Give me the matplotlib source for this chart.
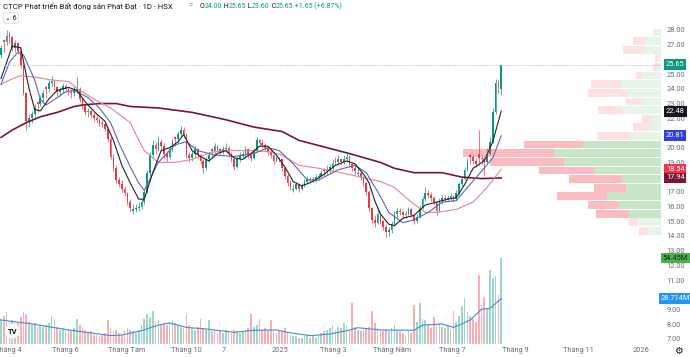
import numpy as np
import matplotlib.pyplot as plt

plt.rcParams["font.family"] = ["Roboto", "DejaVu Sans"]

W, H = 690, 357

# candles, two trading days each (late Mar 2024 -> mid Aug 2025)
opens = [
    26.3, 27.3, 27.2, 27.7, 27.5, 26.8, 27.1, 26.6, 25.6, 23.7,
    21.8, 22.0, 22.3, 23.1, 23.0, 23.4, 24.1, 24.0, 24.4, 24.5,
    24.1, 23.8, 23.9, 24.2, 24.0, 23.8, 23.7, 23.9, 24.0, 23.3,
    22.8, 22.4, 22.5, 22.2, 22.0, 21.9, 21.7, 21.6, 21.3, 20.6,
    19.4, 18.6, 17.8, 17.5, 17.2, 16.9, 16.3, 15.7, 15.8, 15.9,
    16.0, 16.3, 17.0, 18.3, 19.5, 20.2, 19.9, 20.4, 20.1, 19.6,
    19.4, 19.9, 20.7, 20.6, 20.9, 21.2, 20.9, 19.5, 19.3, 19.6,
    19.9, 19.5, 19.1, 18.6, 19.2, 19.9, 19.8, 20.1, 19.9, 19.7,
    19.9, 20.0, 19.6, 19.2, 18.7, 19.2, 19.5, 19.6, 19.9, 19.5,
    19.3, 19.8, 20.5, 20.3, 20.2, 20.0, 19.7, 19.5, 19.1, 19.3,
    19.2, 18.6, 18.1, 17.6, 17.1, 17.2, 17.5, 17.2, 17.4, 17.7,
    17.9, 17.8, 17.9, 18.0, 18.1, 18.5, 18.4, 18.5, 18.7, 19.1,
    19.0, 19.2, 19.0, 19.2, 19.4, 18.9, 18.6, 18.2, 18.3, 18.0,
    17.6, 17.0, 15.9, 15.1, 14.9, 15.5, 15.0, 14.6, 14.3, 14.4,
    14.8, 15.5, 15.7, 15.6, 15.4, 15.5, 15.8, 15.4, 15.0, 15.3,
    15.9, 16.5, 16.9, 16.8, 16.6, 16.3, 15.7, 16.4, 16.6, 16.5,
    16.6, 16.7, 16.5, 16.9, 17.5, 17.9, 18.5, 19.5, 19.4, 19.1,
    19.6, 19.3, 19.2, 19.0, 19.6, 20.4, 22.4, 24.4, 24.0,
]
highs = [
    27.0, 27.4, 28.0, 27.9, 27.6, 27.3, 27.2, 26.8, 25.7, 23.8,
    22.3, 22.5, 23.0, 23.2, 23.6, 23.9, 24.2, 24.6, 24.9, 24.6,
    24.2, 24.1, 24.4, 24.3, 24.1, 24.0, 24.2, 24.8, 24.1, 23.4,
    23.0, 22.7, 22.6, 22.4, 22.3, 22.0, 21.9, 21.7, 21.4, 20.7,
    19.6, 18.8, 18.0, 17.8, 17.4, 17.0, 16.5, 16.2, 16.2, 16.3,
    16.5, 17.2, 18.5, 19.7, 20.5, 20.4, 20.8, 20.6, 20.3, 19.8,
    20.1, 20.6, 20.8, 21.1, 21.5, 21.4, 21.0, 19.7, 19.8, 20.1,
    20.0, 19.6, 19.2, 19.4, 19.7, 20.0, 20.3, 20.2, 20.0, 20.1,
    20.3, 20.1, 19.7, 19.3, 19.4, 19.7, 19.8, 20.1, 20.0, 19.6,
    20.0, 20.7, 20.6, 20.5, 20.3, 20.1, 19.9, 19.6, 19.5, 19.4,
    19.3, 18.7, 18.2, 17.8, 17.5, 17.7, 17.6, 17.6, 17.9, 18.1,
    18.0, 18.1, 18.2, 18.3, 18.5, 18.6, 18.8, 18.9, 19.2, 19.4,
    19.5, 19.3, 19.5, 19.7, 19.5, 19.0, 18.8, 18.6, 18.4, 18.1,
    17.7, 17.1, 16.0, 15.4, 15.9, 15.6, 15.1, 14.8, 14.6, 15.0,
    15.7, 15.9, 15.9, 15.7, 15.7, 16.0, 15.9, 15.5, 15.5, 16.1,
    16.7, 17.3, 17.1, 17.0, 16.7, 16.4, 16.6, 16.8, 16.8, 16.8,
    16.9, 16.8, 17.1, 17.7, 18.1, 18.7, 19.3, 19.6, 19.5, 19.3,
    21.2, 19.5, 19.4, 20.0, 20.7, 22.7, 24.7, 24.6, 25.65,
]
lows = [
    26.1, 26.5, 27.0, 27.1, 26.6, 26.5, 26.4, 25.4, 23.6, 21.2,
    21.4, 21.7, 22.1, 22.4, 22.8, 23.1, 23.4, 23.8, 24.1, 23.9,
    23.5, 23.5, 23.7, 23.8, 23.6, 23.4, 23.5, 23.7, 23.1, 22.6,
    22.2, 22.1, 22.0, 21.8, 21.7, 21.5, 21.4, 21.1, 20.4, 19.2,
    18.4, 17.6, 17.3, 17.0, 16.7, 16.1, 15.6, 15.5, 15.6, 15.7,
    15.8, 16.2, 16.9, 18.1, 19.3, 19.6, 19.8, 19.8, 19.3, 19.0,
    19.2, 19.7, 20.1, 20.4, 20.7, 20.7, 19.3, 19.0, 19.1, 19.4,
    19.3, 18.9, 18.3, 18.5, 19.0, 19.3, 19.6, 19.7, 19.5, 19.6,
    19.7, 19.4, 19.0, 18.5, 18.6, 19.0, 19.3, 19.4, 19.3, 19.1,
    19.2, 19.7, 20.1, 20.0, 19.8, 19.5, 19.3, 18.9, 19.0, 19.0,
    18.4, 17.9, 17.4, 17.1, 17.0, 17.1, 17.0, 17.1, 17.3, 17.5,
    17.6, 17.7, 17.7, 17.8, 18.0, 18.1, 18.2, 18.3, 18.5, 18.8,
    18.8, 18.8, 18.9, 19.0, 18.7, 18.4, 18.2, 18.1, 17.8, 17.4,
    16.8, 15.7, 14.9, 14.6, 14.8, 14.8, 14.4, 13.9, 14.0, 14.2,
    14.7, 15.3, 15.4, 15.2, 15.3, 15.4, 15.3, 14.8, 14.9, 15.2,
    15.8, 16.4, 16.6, 16.4, 16.1, 15.4, 15.6, 16.2, 16.3, 16.4,
    16.4, 16.3, 16.4, 16.8, 17.4, 17.8, 18.4, 18.9, 18.9, 18.7,
    18.8, 18.9, 18.1, 18.9, 19.5, 20.3, 22.3, 23.7, 23.6,
]
closes = [
    26.8, 27.2, 27.6, 27.5, 26.8, 27.1, 26.6, 25.6, 23.7, 21.8,
    22.0, 22.3, 22.7, 23.0, 23.4, 23.7, 24.0, 24.4, 24.5, 24.1,
    23.8, 23.9, 24.2, 24.0, 23.8, 23.7, 23.9, 24.0, 23.3, 22.8,
    22.4, 22.5, 22.2, 22.0, 21.9, 21.7, 21.6, 21.3, 20.6, 19.4,
    18.6, 17.8, 17.5, 17.2, 16.9, 16.3, 15.9, 15.8, 15.9, 16.0,
    16.3, 17.0, 18.3, 19.5, 20.2, 19.9, 20.4, 20.1, 19.6, 19.4,
    19.9, 20.4, 20.6, 20.9, 21.2, 20.9, 19.5, 19.3, 19.6, 19.9,
    19.5, 19.1, 18.6, 19.2, 19.5, 19.8, 20.1, 19.9, 19.7, 19.9,
    20.0, 19.6, 19.2, 18.7, 19.2, 19.5, 19.6, 19.9, 19.5, 19.3,
    19.8, 20.5, 20.3, 20.2, 20.0, 19.7, 19.5, 19.1, 19.3, 19.2,
    18.6, 18.1, 17.6, 17.3, 17.2, 17.5, 17.2, 17.4, 17.7, 17.9,
    17.8, 17.9, 18.0, 18.1, 18.3, 18.4, 18.5, 18.7, 18.9, 19.0,
    19.2, 19.0, 19.2, 19.4, 18.9, 18.6, 18.4, 18.3, 18.0, 17.6,
    17.0, 15.9, 15.1, 14.9, 15.5, 15.0, 14.6, 14.3, 14.4, 14.8,
    15.5, 15.7, 15.6, 15.4, 15.5, 15.8, 15.4, 15.0, 15.3, 15.9,
    16.5, 16.9, 16.8, 16.6, 16.3, 15.7, 16.4, 16.6, 16.5, 16.6,
    16.7, 16.5, 16.9, 17.5, 17.9, 18.5, 19.1, 19.4, 19.1, 18.9,
    19.3, 19.2, 19.0, 19.6, 20.4, 22.4, 24.4, 24.1, 25.65,
]
# volume in millions of shares
volumes = [
    16, 18, 20, 14, 15, 12, 13, 17, 20, 19,
    14, 12, 13, 11, 12, 11, 12, 13, 18, 16,
    11, 9, 10, 8, 9, 8, 10, 16, 12, 11,
    9, 7, 8, 6, 6, 5, 6, 7, 15, 10,
    8, 9, 7, 6, 8, 10, 9, 8, 7, 9,
    12, 16, 19, 17, 21, 14, 15, 12, 13, 12,
    14, 15, 13, 12, 11, 10, 19, 12, 10, 9,
    11, 16, 10, 9, 15, 8, 9, 7, 8, 7,
    9, 8, 7, 9, 8, 7, 8, 9, 10, 19,
    11, 12, 16, 9, 10, 9, 15, 8, 7, 9,
    8, 10, 7, 6, 5, 5, 4, 4, 5, 6,
    4, 5, 4, 6, 7, 8, 9, 10, 12, 9,
    11, 10, 13, 12, 9, 26, 11, 9, 8, 9,
    10, 11, 21, 13, 10, 9, 8, 9, 8, 10,
    12, 9, 8, 7, 6, 8, 7, 25, 14, 26,
    16, 15, 12, 10, 17, 12, 13, 11, 10, 12,
    9, 21, 14, 18, 24, 29, 20, 18, 16, 14,
    44, 25, 30, 22, 47, 42, 43, 31, 54.45,
]

# moving averages (candle index, price)
ma_fast_idx = [0, 4, 7, 10, 12, 14, 17, 20, 24, 27, 30, 34, 37, 40, 43, 46, 49, 51, 54, 57,
               60, 63, 65, 68, 71, 74, 77, 80, 83, 86, 89, 92, 95, 98, 101, 104, 107, 111,
               115, 119, 123, 126, 129, 131, 133, 135, 138, 140, 143, 147, 151, 155, 159,
               162, 165, 168, 172, 175, 178]
ma_fast_val = [24.7, 26.9, 26.8, 24.0, 22.6, 22.5, 23.3, 23.9, 24.1, 23.9, 23.1, 22.3, 21.8,
               20.5, 18.8, 17.6, 16.5, 16.5, 18.3, 19.8, 20.0, 20.4, 20.9, 19.8, 19.4, 19.1,
               19.6, 19.8, 19.3, 19.2, 19.6, 20.1, 20.1, 19.5, 18.7, 17.7, 17.4, 17.7, 18.2,
               18.8, 19.1, 18.9, 18.2, 17.6, 16.4, 15.5, 14.8, 14.7, 15.2, 15.4, 16.1, 16.3,
               16.5, 16.6, 17.5, 18.6, 19.1, 20.4, 22.48]
ma_mid_idx = [0, 3, 6, 8, 12, 14, 16, 20, 23, 26, 31, 35, 39, 42, 46, 49, 51, 56, 62, 66,
              70, 76, 83, 90, 95, 99, 104, 109, 113, 120, 126, 130, 135, 138, 143, 147,
              152, 157, 162, 166, 171, 175, 178]
ma_mid_val = [24.3, 25.8, 26.5, 26.3, 24.6, 23.3, 22.9, 23.4, 23.8, 23.9, 23.4, 22.7, 21.7,
              20.3, 18.7, 17.6, 17.1, 19.0, 20.2, 20.4, 19.8, 19.5, 19.4, 19.6, 20.0, 19.8,
              18.9, 17.8, 17.8, 18.5, 18.8, 18.3, 16.7, 15.6, 14.9, 15.1, 15.6, 16.3, 16.4,
              17.3, 18.4, 19.3, 20.81]
ma_slow_idx = [0, 3, 7, 12, 18, 24, 28, 34, 39, 46, 48, 51, 56, 62, 68, 75, 80, 90, 96,
               100, 106, 113, 121, 128, 135, 140, 146, 151, 155, 162, 168, 173, 178]
ma_slow_val = [24.3, 24.6, 24.9, 24.8, 24.6, 24.5, 23.9, 23.2, 22.7, 21.7, 20.9, 19.8, 19.0,
               19.0, 19.2, 19.7, 19.8, 19.8, 19.7, 19.5, 18.8, 18.6, 18.3, 18.0, 17.7, 17.3,
               16.3, 15.6, 15.6, 15.8, 16.3, 17.3, 18.54]
ma_long_idx = [0, 4, 9, 14, 20, 26, 29, 35, 41, 46, 56, 68, 80, 90, 100, 106, 116, 124,
               135, 140, 147, 157, 164, 171, 178]
ma_long_val = [20.7, 21.2, 21.7, 22.1, 22.4, 22.8, 22.9, 23.0, 23.0, 22.8, 22.7, 22.4, 21.9,
               21.4, 21.1, 20.5, 20.0, 19.6, 19.0, 18.6, 18.3, 18.3, 18.0, 17.9, 17.94]
vol_ma_idx = [0, 11, 24, 35, 39, 43, 50, 56, 60, 66, 73, 83, 90, 98, 103, 110, 117, 123,
              127, 135, 147, 150, 157, 161, 163, 167, 171, 174, 178]
vol_ma_val = [15.2, 12.7, 8.9, 6.3, 5.3, 5.7, 8.4, 12.0, 13.3, 10.5, 9.5, 7.4, 8.7, 8.9,
              7.0, 5.3, 6.3, 8.4, 10.3, 8.9, 8.7, 12.0, 12.7, 10.5, 12.0, 15.2, 22.0, 22.6,
              28.714]

# visible-range volume profile, bottom row first (buy / sell)
vp_bottom = 14.05
vp_row = 0.5865
vp_buy = [18.5, 33.5, 47.5, 63.5, 80, 52.5, 57.5, 99.5, 144.5, 160, 117, 46,
          16, 11, 57.5, 27, 49.5, 60, 26, 6, 3.5, 23.5, 22, 11]
vp_sell = [14, 15, 50, 45, 76, 47.5, 80, 82.5, 111.5, 136, 88, 50,
           25.5, 17.5, 36, 25.5, 60, 44.5, 11.5, 5, 5, 32.5, 20, 0]
value_area_rows = range(2, 11)

month_pos = [2.5, 22.8, 44.8, 65.9, 79.4, 99.3, 118.2, 139.1, 160.5, 182.9, 205.3, 227.8]
month_labels = ["Tháng 4", "Tháng 6", "Tháng Tám", "Tháng 10", "7", "2025", "Tháng 3",
                "Tháng Năm", "Tháng 7", "Tháng 9", "Tháng 11", "2026"]

price_tags = [25.65, 22.48, 20.81, 18.54, 17.94]
price_tag_colors = ["#089981", "#131722", "#2f3fe0", "#f23645", "#7a1535"]
vol_tag_price = 9.71  # where the 28.714M tag sits on the price scale

UP, DOWN = "#089981", "#f23645"
GREY = "#6a6d78"


def draw_pieces(fig, x_px, y_px, pieces, size):
    renderer = fig.canvas.get_renderer()
    for txt, color in pieces:
        t = fig.text(x_px / W, 1 - y_px / H, txt, color=color, fontsize=size, va="center")
        x_px += t.get_window_extent(renderer).width


def tag(ax, value, text, face, fg="white"):
    ax.text(1.022, value, text, transform=ax.get_yaxis_transform(), ha="center",
            va="center", fontsize=5.3, color=fg, clip_on=False, zorder=10,
            bbox=dict(boxstyle="square,pad=0.25", fc=face, ec="none"))


def main():
    fig = plt.figure(figsize=(W / 100, H / 100), dpi=100)
    rect = [0, 13 / H, 660.7 / W, 344 / H]
    ax_vol = fig.add_axes(rect)
    ax = fig.add_axes(rect, sharex=ax_vol)
    ax_vp = ax.twiny()
    ax_vol.set_zorder(1)
    ax.set_zorder(2)
    ax_vp.set_zorder(3)
    ax.patch.set_visible(False)
    ax_vp.patch.set_visible(False)

    o, h, l, c = map(np.array, (opens, highs, lows, closes))
    x = np.arange(len(c))
    up = c >= o
    colors = np.where(up, UP, DOWN)

    # volume overlay
    ax_vol.bar(x, volumes, width=0.6, color=colors, alpha=0.4, linewidth=0)
    ax_vol.plot(vol_ma_idx, vol_ma_val, color="#3d8fd6", lw=0.8)
    ax_vol.set_ylim(0, 344 * 54.45 / 86)

    # candles
    ax.vlines(x, l, h, colors=colors, lw=0.5)
    ax.bar(x, np.maximum(np.abs(c - o), 0.06), bottom=np.minimum(o, c), width=0.6,
           color=colors, linewidth=0)
    ax.plot(ma_long_idx, ma_long_val, color="#7a1535", lw=1.2)
    ax.plot(ma_slow_idx, ma_slow_val, color="#e0868f", lw=0.8)
    ax.plot(ma_mid_idx, ma_mid_val, color="#5c63c4", lw=0.8)
    ax.plot(ma_fast_idx, ma_fast_val, color="#222222", lw=0.8)
    ax.axhline(c[-1], color="#b2b5be", ls=(0, (1, 1.5)), lw=0.7)

    ax.set_xlim(-1 / 2.81, 659.7 / 2.81)
    ax.set_ylim(28 - 314 / 14.71, 28 + 30 / 14.71)

    # volume profile from the right edge
    buy, sell = np.array(vp_buy), np.array(vp_sell)
    rows = vp_bottom + vp_row * (np.arange(len(buy)) + 0.5)
    for i, (y, b, s) in enumerate(zip(rows, buy, sell)):
        a = 0.31 if i in value_area_rows else 0.13
        ax_vp.barh(y, b, height=vp_row * 0.9, left=0, color="#4caf50", alpha=a, lw=0)
        ax_vp.barh(y, s, height=vp_row * 0.9, left=b, color=DOWN, alpha=a + 0.02, lw=0)
    ax_vp.set_xlim((buy + sell).max() / 0.2987, 0)
    ax_vp.set_xticks([])

    for a in (ax, ax_vol, ax_vp):
        for s in a.spines.values():
            s.set_visible(False)
    ax_vol.set_yticks([])
    ax_vol.tick_params(bottom=False, labelbottom=False)

    # price scale, leaving out the levels hidden behind the tags
    covered = price_tags + [vol_tag_price]
    levels = [v for v in range(7, 29) if min(abs(v - p) for p in covered) > 0.4]
    ax.yaxis.tick_right()
    ax.set_yticks(levels, [f"{v:.2f}" for v in levels])
    ax.tick_params(axis="y", length=0, pad=4, labelsize=5.3, labelcolor=GREY)
    ax.set_xticks(month_pos, month_labels)
    ax.tick_params(axis="x", length=0, pad=2.5, labelsize=5.3, labelcolor=GREY)

    for p, col in zip(price_tags, price_tag_colors):
        tag(ax, p, f"{p:.2f}", col)
    tag(ax_vol, 54.45, "54.45M", "#4caf50", "#102810")
    tag(ax_vol, 28.714, "28.714M", "#2196f3")

    # header
    draw_pieces(fig, 3, 6, [("CTCP Phát triển Bất động sản Phát Đạt · 1D · HSX", "#131722")], 5.6)
    fig.text(188 / W, 1 - 6 / H, "=", color=GREY, fontsize=5.4, va="center")
    draw_pieces(fig, 200, 6, [("O", "#131722"), ("24.00", UP), (" H", "#131722"), ("25.65", UP),
                              (" L", "#131722"), ("23.60", UP), (" C", "#131722"),
                              ("25.65", UP), (" +1.65 (+6.87%)", UP)], 5.0)
    fig.text(5 / W, 1 - 18 / H, "⌄ 6", color="#131722", fontsize=5, va="center",
             bbox=dict(boxstyle="round,pad=0.25", fc="white", ec="#d1d4dc", lw=0.5))
    fig.text(12.5 / W, 1 - 331 / H, "TV", color="#131722", fontsize=5.5, fontweight="bold",
             ha="center", va="center", zorder=20,
             bbox=dict(boxstyle="circle,pad=0.35", fc="white", ec="#e0e3eb", lw=0.5))
    fig.text(678 / W, 1 - 351 / H, "⚙", color="#131722", fontsize=7, ha="center", va="center")

    fig.savefig("out.png", dpi=100)


if __name__ == "__main__":
    main()
